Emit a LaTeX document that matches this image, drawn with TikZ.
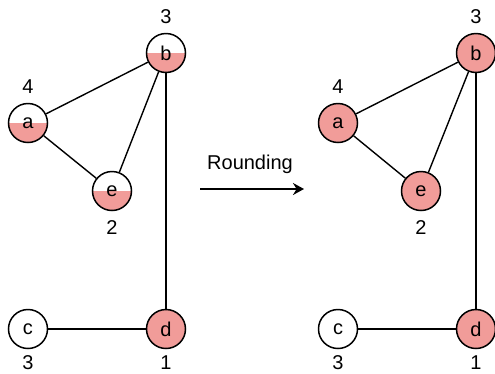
\documentclass[tikz,border=0pt]{standalone}
\usepackage{fontspec}
\setmainfont{Liberation Sans}
\usetikzlibrary{arrows.meta}
\definecolor{pinkfill}{HTML}{F19C99}
\begin{document}
\begin{tikzpicture}[x=1pt,y=-1pt,
  font=\fontsize{20}{23}\selectfont,
  vtx/.style={circle,draw=black,line width=1.5pt,minimum size=39pt,inner sep=0pt,fill=white},
  fullnode/.style={vtx,fill=pinkfill},
  halfnode/.style={vtx,path picture={\fill[pinkfill] (path picture bounding box.west) rectangle (path picture bounding box.south east);}},
  edge/.style={line width=1.4pt},
  num/.style={inner sep=0pt}]
\useasboundingbox (0,0) rectangle (495,373);
% left graph
\node[halfnode] (b1) at (166,53) {b};
\node[halfnode] (a1) at (28,123) {a};
\node[halfnode] (e1) at (112,191) {e};
\node[vtx] (c1) at (28,329) {c};
\node[fullnode] (d1) at (166,329) {d};
\draw[edge] (a1) -- (b1);
\draw[edge] (a1) -- (e1);
\draw[edge] (e1) -- (b1);
\draw[edge] (b1) -- (d1);
\draw[edge] (c1) -- (d1);
\node[num] (lb1) at (166,17) {3};
\node[num] (la1) at (28,87) {4};
\node[num] (le1) at (112,228) {2};
\node[num] (lc1) at (28,363) {3};
\node[num] (ld1) at (166,363) {1};
% arrow
\coordinate (p) at (200,189);
\coordinate (q) at (304,189);
\draw[line width=2.8pt,-{Stealth[length=11pt,width=12pt]}] (p) -- (q);
\node[num] (rt) at (250,164) {Rounding};
% right graph
\node[fullnode] (b2) at (476,53) {b};
\node[fullnode] (a2) at (338,123) {a};
\node[fullnode] (e2) at (421,191) {e};
\node[vtx] (c2) at (338,329) {c};
\node[fullnode] (d2) at (476,329) {d};
\draw[edge] (a2) -- (b2);
\draw[edge] (a2) -- (e2);
\draw[edge] (e2) -- (b2);
\draw[edge] (b2) -- (d2);
\draw[edge] (c2) -- (d2);
\node[num] (lb2) at (476,17) {3};
\node[num] (la2) at (338,87) {4};
\node[num] (le2) at (421,228) {2};
\node[num] (lc2) at (338,363) {3};
\node[num] (ld2) at (476,363) {1};
\end{tikzpicture}
\end{document}
